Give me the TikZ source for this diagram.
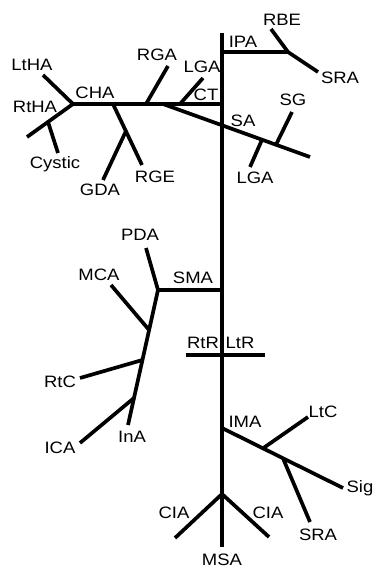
\documentclass[tikz,border=0pt]{standalone}
\usepackage{fontspec}
\setmainfont[FakeStretch=1.12]{Liberation Sans}
\begin{document}
\begin{tikzpicture}[x=1pt,y=-1pt,
  br/.style={line width=3.7pt},
  lbl/.style={font=\fontsize{16.5}{18}\selectfont, inner sep=0pt, text height=11.8pt, text depth=0pt}]
\useasboundingbox (0,0) rectangle (379,569);
% junction coordinates
\coordinate (top) at (222,33);
\coordinate (bot) at (222,547);
\coordinate (ipa) at (222,52);
\coordinate (ipaE) at (288,52);
\coordinate (rbeE) at (271,29);
\coordinate (sraE1) at (318,72);
\coordinate (ct) at (222,104);
\coordinate (cha) at (73,104);
\coordinate (saS) at (163,104);
\coordinate (saE) at (310,157);
\coordinate (lgaA) at (180,104);
\coordinate (lgaE) at (203,78);
\coordinate (sgA) at (276,144.7);
\coordinate (sgE) at (292,112);
\coordinate (lgbA) at (262,139.7);
\coordinate (lgbE) at (250,167);
\coordinate (rgaA) at (146,104);
\coordinate (rgaE) at (168,66);
\coordinate (lthaE) at (43,75);
\coordinate (rthaE) at (27,137);
\coordinate (cysA) at (48,121.9);
\coordinate (cysE) at (58,153);
\coordinate (rgeA) at (113,104);
\coordinate (rgeE) at (142,165);
\coordinate (gdaA) at (126,131);
\coordinate (gdaE) at (103,180);
\coordinate (sma) at (222,290);
\coordinate (smaJ) at (158,290);
\coordinate (pdaE) at (146,248);
\coordinate (chainE) at (128,425);
\coordinate (mcaA) at (149.1,330);
\coordinate (mcaE) at (111,285);
\coordinate (rtcA) at (142.4,360);
\coordinate (rtcE) at (80,378);
\coordinate (icaA) at (134,398);
\coordinate (icaE) at (80,443);
\coordinate (rtrL) at (186,355);
\coordinate (rtrR) at (265,355);
\coordinate (ima) at (222,428);
\coordinate (sigE) at (343,488);
\coordinate (ltcA) at (263,448.3);
\coordinate (ltcE) at (308,417);
\coordinate (srbA) at (283,458.3);
\coordinate (srbE) at (310,522);
\coordinate (cia) at (222,494);
\coordinate (ciaL) at (175,538);
\coordinate (ciaR) at (269,537);
% branches
\draw[br] (top) -- (bot);
\draw[br] (ipa) -- (ipaE);
\draw[br] (rbeE) -- (ipaE) -- (sraE1);
\draw[br] (cha) -- (ct);
\draw[br] (saS) -- (saE);
\draw[br] (lgaA) -- (lgaE);
\draw[br] (sgA) -- (sgE);
\draw[br] (lgbA) -- (lgbE);
\draw[br] (rgaA) -- (rgaE);
\draw[br] (cha) -- (lthaE);
\draw[br] (cha) -- (rthaE);
\draw[br] (cysA) -- (cysE);
\draw[br] (rgeA) -- (rgeE);
\draw[br] (gdaA) -- (gdaE);
\draw[br] (sma) -- (smaJ);
\draw[br] (smaJ) -- (pdaE);
\draw[br] (smaJ) -- (chainE);
\draw[br] (mcaA) -- (mcaE);
\draw[br] (rtcA) -- (rtcE);
\draw[br] (icaA) -- (icaE);
\draw[br] (rtrL) -- (rtrR);
\draw[br] (ima) -- (sigE);
\draw[br] (ltcA) -- (ltcE);
\draw[br] (srbA) -- (srbE);
\draw[br] (cia) -- (ciaL);
\draw[br] (cia) -- (ciaR);
% labels
\node[lbl] (lRBE) at (282,20) {RBE};
\node[lbl] (lIPA) at (243,42) {IPA};
\node[lbl] (lSRA1) at (340,78) {SRA};
\node[lbl] (lLGA1) at (202,67) {LGA};
\node[lbl] (lCT) at (206,95) {CT};
\node[lbl] (lSA) at (243,121) {SA};
\node[lbl] (lSG) at (293,100) {SG};
\node[lbl] (lLGA2) at (255,178) {LGA};
\node[lbl] (lRGA) at (157,55) {RGA};
\node[lbl] (lCHA) at (95,93) {CHA};
\node[lbl] (lLtHA) at (32,65) {LtHA};
\node[lbl] (lRtHA) at (35,107) {RtHA};
\node[lbl] (lCys) at (55,163) {Cystic};
\node[lbl] (lRGE) at (155,177) {RGE};
\node[lbl] (lGDA) at (100,190) {GDA};
\node[lbl] (lSMA) at (193,278) {SMA};
\node[lbl] (lPDA) at (140,235) {PDA};
\node[lbl] (lMCA) at (99,275) {MCA};
\node[lbl] (lRtC) at (60,382) {RtC};
\node[lbl] (lICA) at (60,448) {ICA};
\node[lbl] (lInA) at (132,437) {InA};
\node[lbl] (lRtR) at (203,343) {RtR};
\node[lbl] (lLtR) at (240,343) {LtR};
\node[lbl] (lIMA) at (245,422) {IMA};
\node[lbl] (lLtC) at (323,412) {LtC};
\node[lbl] (lSig) at (360,487) {Sig};
\node[lbl] (lSRA2) at (318,535) {SRA};
\node[lbl] (lCIA1) at (174,513) {CIA};
\node[lbl] (lCIA2) at (268,513) {CIA};
\node[lbl] (lMSA) at (222,560) {MSA};
\end{tikzpicture}
\end{document}
